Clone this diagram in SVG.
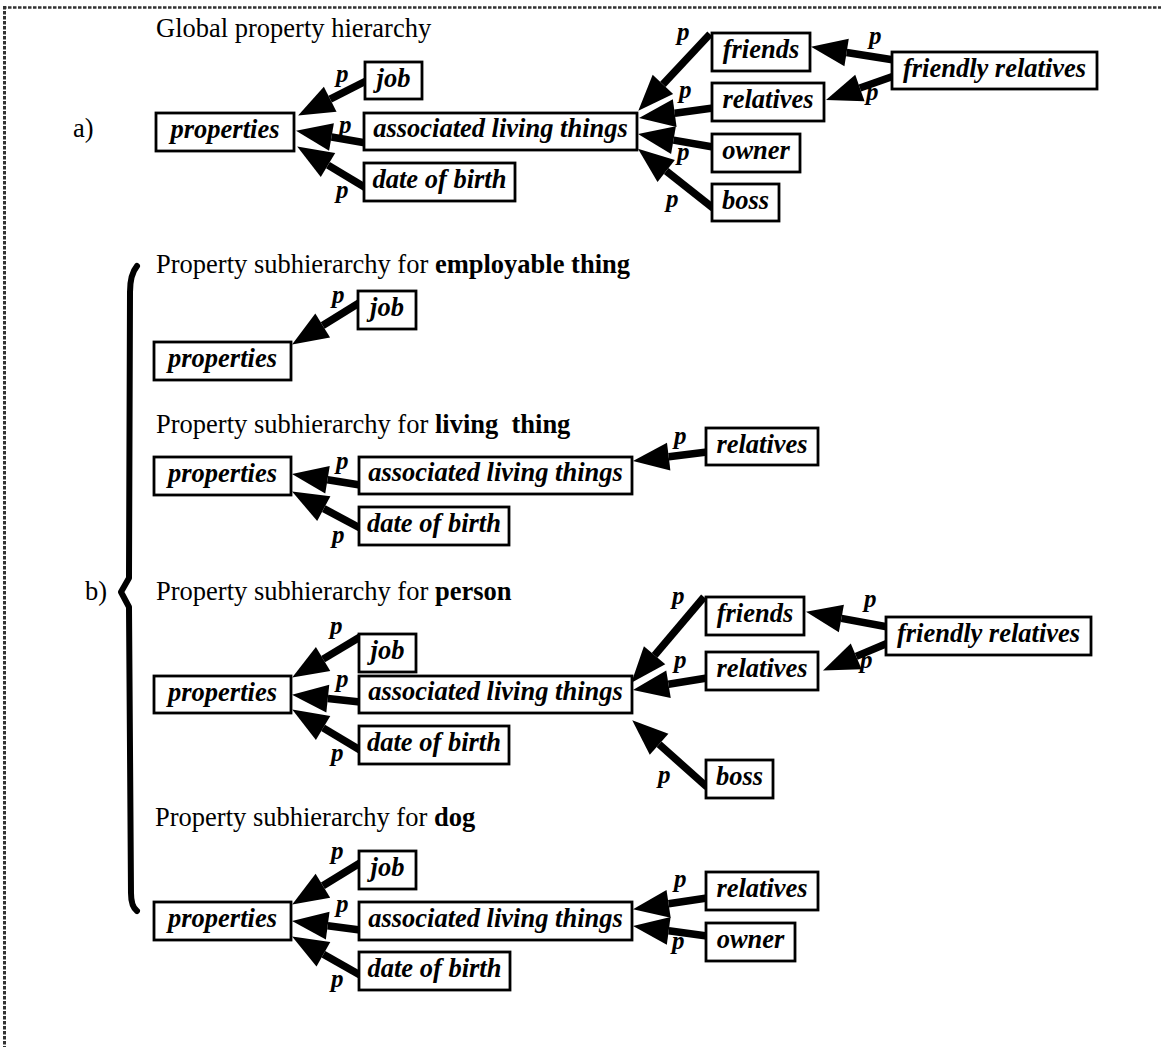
<svg xmlns="http://www.w3.org/2000/svg" width="1161" height="1047" viewBox="0 0 1161 1047">
  <defs>
    <style>
      .frame { stroke: #333; fill: none; stroke-dasharray: 3.5 1.5; }
      .box { fill: #fff; stroke: #000; stroke-width: 2.8; }
      .lbl { font-family: "Liberation Serif", "Times New Roman", serif; font-size: 26.5px; font-weight: bold; font-style: italic; text-anchor: middle; fill: #000; }
      .p { font-family: "Liberation Serif", "Times New Roman", serif; font-size: 25px; font-weight: bold; font-style: italic; fill: #000; }
      .title { font-family: "Liberation Serif", "Times New Roman", serif; font-size: 26.5px; fill: #000; }
      .title tspan.b { font-weight: bold; }
      .edge { stroke: #000; stroke-width: 7.5; fill: none; marker-end: url(#head); }
      .brace { stroke: #000; stroke-width: 6; fill: none; stroke-linecap: round; stroke-linejoin: round; }
    </style>
    <!-- filled triangle placed at the end of each edge; its base sits on the line end -->
    <marker id="head" markerUnits="userSpaceOnUse" viewBox="0 -15 38 30" markerWidth="38" markerHeight="30" refX="0" refY="0" orient="auto" overflow="visible">
      <path d="M0,-14 L36,0 L0,14 Z" fill="#000"/>
    </marker>
  </defs>

  <rect width="1161" height="1047" fill="#fff"/>

  <!-- dotted frame (top and left) -->
  <line class="frame" x1="3" y1="7.5" x2="1161" y2="7.5" stroke-width="2.6"/>
  <line class="frame" x1="4.5" y1="6" x2="4.5" y2="1047" stroke-width="3"/>

  <!-- headings -->
  <g id="headings">
    <text class="title" x="156" y="37">Global property hierarchy</text>
    <text class="title" x="73" y="137">a)</text>
    <text class="title" x="85" y="600">b)</text>
    <text class="title" x="156" y="273">Property subhierarchy for <tspan class="b">employable thing</tspan></text>
    <text class="title" x="156" y="433">Property subhierarchy for <tspan class="b">living</tspan><tspan class="b" dx="6.6"> thing</tspan></text>
    <text class="title" x="156" y="600">Property subhierarchy for <tspan class="b">person</tspan></text>
    <text class="title" x="155" y="826">Property subhierarchy for <tspan class="b">dog</tspan></text>
  </g>

  <!-- brace grouping part b -->
  <path class="brace" d="M137,266 C132,272 130,280 130,292 L129,578 L121,592 L129,607 L131,893 C131,903 133,908 137,911"/>

  <!-- connectors -->
  <g id="connectors">
    <!-- a) global -->
    <line class="edge" x1="366" y1="81" x2="330.2" y2="99.2"/>
    <line class="edge" x1="366" y1="143" x2="331.5" y2="137.0"/>
    <line class="edge" x1="366" y1="188" x2="328.0" y2="165.1"/>
    <line class="edge" x1="710" y1="34" x2="662.9" y2="84.4"/>
    <line class="edge" x1="713" y1="108" x2="674.7" y2="113.2"/>
    <line class="edge" x1="713" y1="147" x2="673.5" y2="140.1"/>
    <line class="edge" x1="713" y1="208" x2="666.2" y2="171.0"/>
    <line class="edge" x1="894" y1="60" x2="846.6" y2="52.5"/>
    <line class="edge" x1="894" y1="76" x2="859.9" y2="88.0"/>
    <!-- b) employable thing -->
    <line class="edge" x1="359" y1="303" x2="322.7" y2="325.5"/>
    <!-- b) living thing -->
    <line class="edge" x1="707" y1="452" x2="668.7" y2="456.7"/>
    <line class="edge" x1="360" y1="485" x2="327.5" y2="479.7"/>
    <line class="edge" x1="360" y1="528" x2="323.8" y2="508.6"/>
    <!-- b) person -->
    <line class="edge" x1="360" y1="637" x2="323.1" y2="659.1"/>
    <line class="edge" x1="360" y1="702" x2="327.8" y2="698.6"/>
    <line class="edge" x1="360" y1="750" x2="323.1" y2="727.9"/>
    <line class="edge" x1="704" y1="597" x2="654.6" y2="655.3"/>
    <line class="edge" x1="707" y1="678" x2="668.5" y2="684.3"/>
    <line class="edge" x1="707" y1="787" x2="659.1" y2="744.3"/>
    <line class="edge" x1="888" y1="627" x2="841.4" y2="618.4"/>
    <line class="edge" x1="888" y1="643" x2="856.2" y2="656.4"/>
    <!-- b) dog -->
    <line class="edge" x1="360" y1="863" x2="322.9" y2="885.7"/>
    <line class="edge" x1="360" y1="930" x2="327.7" y2="925.7"/>
    <line class="edge" x1="360" y1="975" x2="323.4" y2="954.3"/>
    <line class="edge" x1="707" y1="898" x2="668.6" y2="903.8"/>
    <line class="edge" x1="707" y1="936" x2="668.7" y2="930.8"/>
  </g>

  <!-- edge labels -->
  <g id="edge-labels">
    <text class="p" x="336" y="82">p</text>
    <text class="p" x="339" y="133">p</text>
    <text class="p" x="336" y="198">p</text>
    <text class="p" x="677" y="40">p</text>
    <text class="p" x="679" y="98">p</text>
    <text class="p" x="677" y="160">p</text>
    <text class="p" x="666" y="207">p</text>
    <text class="p" x="869" y="44">p</text>
    <text class="p" x="866" y="100">p</text>

    <text class="p" x="332" y="303">p</text>

    <text class="p" x="674" y="444">p</text>
    <text class="p" x="336" y="469">p</text>
    <text class="p" x="332" y="543">p</text>

    <text class="p" x="330" y="634">p</text>
    <text class="p" x="336" y="687">p</text>
    <text class="p" x="331" y="761">p</text>
    <text class="p" x="672" y="604">p</text>
    <text class="p" x="674" y="668">p</text>
    <text class="p" x="658" y="783">p</text>
    <text class="p" x="864" y="607">p</text>
    <text class="p" x="860" y="668">p</text>

    <text class="p" x="331" y="859">p</text>
    <text class="p" x="336" y="912">p</text>
    <text class="p" x="331" y="987">p</text>
    <text class="p" x="674" y="887">p</text>
    <text class="p" x="672" y="949">p</text>
  </g>

  <!-- a) global property hierarchy -->
  <g id="a-properties"><rect class="box" x="156" y="113" width="138" height="38"/><text class="lbl" x="225" y="138">properties</text></g>
  <g id="a-job"><rect class="box" x="365" y="62" width="57" height="37"/><text class="lbl" x="393.5" y="87">job</text></g>
  <g id="a-associated"><rect class="box" x="364" y="113" width="273" height="37"/><text class="lbl" x="500.5" y="137">associated living things</text></g>
  <g id="a-dob"><rect class="box" x="364" y="163" width="151" height="38"/><text class="lbl" x="439.5" y="188">date of birth</text></g>
  <g id="a-friends"><rect class="box" x="712" y="33" width="98" height="38"/><text class="lbl" x="761" y="58">friends</text></g>
  <g id="a-relatives"><rect class="box" x="712" y="83" width="112" height="38"/><text class="lbl" x="768" y="108">relatives</text></g>
  <g id="a-owner"><rect class="box" x="712" y="134" width="88" height="38"/><text class="lbl" x="756" y="159">owner</text></g>
  <g id="a-boss"><rect class="box" x="712" y="184" width="67" height="37"/><text class="lbl" x="745.5" y="209">boss</text></g>
  <g id="a-friendly-relatives"><rect class="box" x="892" y="52" width="205" height="37"/><text class="lbl" x="994.5" y="77">friendly relatives</text></g>

  <!-- b) employable thing -->
  <g id="emp-properties"><rect class="box" x="154" y="342" width="137" height="38"/><text class="lbl" x="222.5" y="367">properties</text></g>
  <g id="emp-job"><rect class="box" x="358" y="291" width="58" height="38"/><text class="lbl" x="387" y="316">job</text></g>

  <!-- b) living thing -->
  <g id="liv-properties"><rect class="box" x="154" y="457" width="137" height="38"/><text class="lbl" x="222.5" y="482">properties</text></g>
  <g id="liv-associated"><rect class="box" x="359" y="457" width="273" height="37"/><text class="lbl" x="495.5" y="481">associated living things</text></g>
  <g id="liv-dob"><rect class="box" x="359" y="507" width="150" height="38"/><text class="lbl" x="434" y="532">date of birth</text></g>
  <g id="liv-relatives"><rect class="box" x="706" y="428" width="112" height="37"/><text class="lbl" x="762" y="453">relatives</text></g>

  <!-- b) person -->
  <g id="per-properties"><rect class="box" x="154" y="676" width="137" height="37"/><text class="lbl" x="222.5" y="701">properties</text></g>
  <g id="per-job"><rect class="box" x="359" y="634" width="57" height="38"/><text class="lbl" x="387.5" y="659">job</text></g>
  <g id="per-associated"><rect class="box" x="359" y="676" width="273" height="37"/><text class="lbl" x="495.5" y="700">associated living things</text></g>
  <g id="per-dob"><rect class="box" x="359" y="726" width="150" height="38"/><text class="lbl" x="434" y="751">date of birth</text></g>
  <g id="per-friends"><rect class="box" x="706" y="597" width="98" height="38"/><text class="lbl" x="755" y="622">friends</text></g>
  <g id="per-relatives"><rect class="box" x="706" y="652" width="112" height="38"/><text class="lbl" x="762" y="677">relatives</text></g>
  <g id="per-boss"><rect class="box" x="706" y="760" width="67" height="38"/><text class="lbl" x="739.5" y="785">boss</text></g>
  <g id="per-friendly-relatives"><rect class="box" x="886" y="617" width="205" height="38"/><text class="lbl" x="988.5" y="642">friendly relatives</text></g>

  <!-- b) dog -->
  <g id="dog-properties"><rect class="box" x="154" y="902" width="137" height="38"/><text class="lbl" x="222.5" y="927">properties</text></g>
  <g id="dog-job"><rect class="box" x="359" y="851" width="57" height="38"/><text class="lbl" x="387.5" y="876">job</text></g>
  <g id="dog-associated"><rect class="box" x="359" y="902" width="273" height="38"/><text class="lbl" x="495.5" y="927">associated living things</text></g>
  <g id="dog-dob"><rect class="box" x="359" y="952" width="151" height="38"/><text class="lbl" x="434.5" y="977">date of birth</text></g>
  <g id="dog-relatives"><rect class="box" x="706" y="872" width="112" height="38"/><text class="lbl" x="762" y="897">relatives</text></g>
  <g id="dog-owner"><rect class="box" x="706" y="923" width="89" height="38"/><text class="lbl" x="750.5" y="948">owner</text></g>
</svg>
